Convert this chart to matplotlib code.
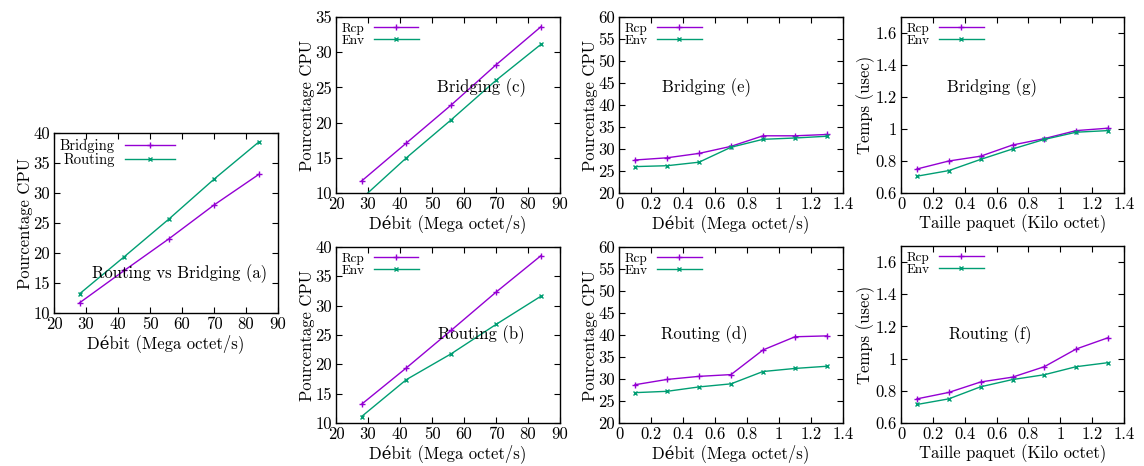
import matplotlib
matplotlib.use("Agg")
import matplotlib.pyplot as plt

plt.rcParams["font.family"] = ["cmr10", "DejaVu Serif"]
plt.rcParams["mathtext.fontset"] = "cm"
plt.rcParams["axes.formatter.use_mathtext"] = True
plt.rcParams["font.size"] = 12

PURPLE = "#9400d3"
GREEN = "#009e73"

# data
debit = [28, 42, 56, 70, 84]
taille = [0.1, 0.3, 0.5, 0.7, 0.9, 1.1, 1.3]

a_bridging = [11.7, 17.1, 22.4, 28.0, 33.1]
a_routing = [13.2, 19.4, 25.7, 32.3, 38.5]

c_rcp = [11.7, 17.1, 22.5, 28.2, 33.6]
c_env = [9.2, 15.0, 20.4, 26.0, 31.1]

b_rcp = [13.2, 19.4, 25.8, 32.3, 38.5]
b_env = [11.1, 17.4, 21.8, 26.8, 31.6]

e_rcp = [27.5, 28.0, 29.0, 30.6, 33.0, 33.0, 33.3]
e_env = [26.0, 26.2, 27.0, 30.4, 32.2, 32.5, 32.9]

d_rcp = [28.7, 29.9, 30.6, 31.0, 36.6, 39.6, 39.8]
d_env = [26.9, 27.2, 28.2, 28.9, 31.7, 32.4, 32.9]

g_rcp = [0.75, 0.80, 0.83, 0.90, 0.94, 0.99, 1.005]
g_env = [0.705, 0.74, 0.81, 0.875, 0.935, 0.98, 0.99]

f_rcp = [0.75, 0.79, 0.855, 0.885, 0.95, 1.06, 1.13]
f_env = [0.715, 0.75, 0.825, 0.87, 0.90, 0.95, 0.975]

W, H = 1144, 466
fig = plt.figure(figsize=(W / 100, H / 100), dpi=100)


def make_ax(left, top, right, bottom):
    ax = fig.add_axes([left / W, 1 - bottom / H, (right - left) / W, (bottom - top) / H])
    ax.tick_params(direction="in", top=True, right=True, length=4, width=0.8, pad=3)
    for s in ax.spines.values():
        s.set_linewidth(1.0)
    return ax


def draw(ax, x, y1, y2, n1, n2, label, lx, ly, xlim, ylim, xticks, yticks,
         xlabel, ylabel, legsize=9.5):
    ax.plot(x, y1, color=PURPLE, marker="+", ms=5, mew=1, lw=1, label=n1)
    ax.plot(x, y2, color=GREEN, marker="x", ms=3.5, mew=1, lw=1, label=n2)
    ax.set_xlim(*xlim)
    ax.set_ylim(*ylim)
    ax.set_xticks(xticks)
    ax.set_yticks(yticks)
    ax.set_xticklabels([f"{t:g}" for t in xticks])
    ax.set_yticklabels([f"{t:g}" for t in yticks])
    ax.set_xlabel(xlabel, labelpad=1)
    ax.set_ylabel(ylabel, labelpad=0)
    ax.text(lx, ly, label, transform=ax.transAxes, ha="center", va="center", fontsize=12)
    ax.legend(loc="upper left", markerfirst=False, frameon=False, fontsize=legsize,
              handlelength=3.4, borderaxespad=0.1, labelspacing=0.0,
              borderpad=0.3, handletextpad=0.7)


deb_lab = "Débit (Mega octet/s)"
cpu_lab = "Pourcentage CPU"
tp_lab = "Taille paquet (Kilo octet)"
tm_lab = "Temps (usec)"
xt_d = [20, 30, 40, 50, 60, 70, 80, 90]
xt_t = [0, 0.2, 0.4, 0.6, 0.8, 1, 1.2, 1.4]

ax = make_ax(54, 133, 278, 313)
draw(ax, debit, a_bridging, a_routing, "Bridging", "Routing", "Routing vs Bridging (a)",
     0.56, 0.22, (20, 90), (10, 40), xt_d, [10, 15, 20, 25, 30, 35, 40], deb_lab, cpu_lab,
     legsize=10.5)

ax = make_ax(336, 17, 560, 193)
draw(ax, debit, c_rcp, c_env, "Rcp", "Env", "Bridging (c)", 0.65, 0.60, (20, 90), (10, 35),
     xt_d, [10, 15, 20, 25, 30, 35], deb_lab, cpu_lab)

ax = make_ax(336, 247, 560, 423)
draw(ax, debit, b_rcp, b_env, "Rcp", "Env", "Routing (b)", 0.65, 0.50, (20, 90), (10, 40),
     xt_d, [10, 15, 20, 25, 30, 35, 40], deb_lab, cpu_lab)

ax = make_ax(619, 17, 843, 193)
draw(ax, taille, e_rcp, e_env, "Rcp", "Env", "Bridging (e)", 0.39, 0.60, (0, 1.4), (20, 60),
     xt_t, [20, 25, 30, 35, 40, 45, 50, 55, 60], deb_lab, cpu_lab)

ax = make_ax(619, 247, 843, 423)
draw(ax, taille, d_rcp, d_env, "Rcp", "Env", "Routing (d)", 0.38, 0.50, (0, 1.4), (20, 60),
     xt_t, [20, 25, 30, 35, 40, 45, 50, 55, 60], deb_lab, cpu_lab)

ax = make_ax(901, 17, 1124, 193)
draw(ax, taille, g_rcp, g_env, "Rcp", "Env", "Bridging (g)", 0.41, 0.60, (0, 1.4), (0.6, 1.7),
     xt_t, [0.6, 0.8, 1, 1.2, 1.4, 1.6], tp_lab, tm_lab)

ax = make_ax(901, 246, 1124, 423)
draw(ax, taille, f_rcp, f_env, "Rcp", "Env", "Routing (f)", 0.40, 0.50, (0, 1.4), (0.6, 1.7),
     xt_t, [0.6, 0.8, 1, 1.2, 1.4, 1.6], tp_lab, tm_lab)

fig.savefig("out.png", dpi=100)
